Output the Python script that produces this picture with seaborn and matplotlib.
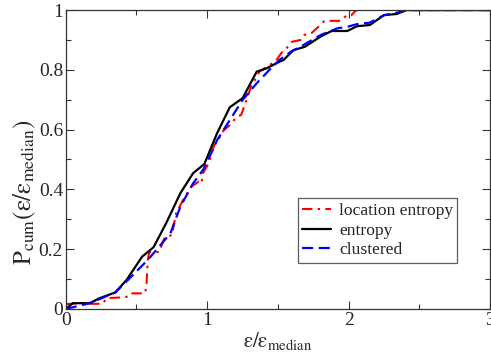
import matplotlib
matplotlib.use("Agg")
import matplotlib.pyplot as plt
import seaborn as sns
import pandas as pd
from matplotlib.ticker import MultipleLocator, FuncFormatter

# ---- data ----
entropy_x = [0.0, 0.05, 0.17, 0.24, 0.35, 0.43, 0.54, 0.62, 0.71, 0.81, 0.90, 0.98,
             1.07, 1.16, 1.25, 1.35, 1.42, 1.51, 1.54, 1.61, 1.69, 1.80, 1.88, 1.99,
             2.06, 2.15, 2.25, 2.34, 2.41, 3.0]
entropy_y = [0.0, 0.019, 0.019, 0.036, 0.055, 0.097, 0.175, 0.206, 0.287, 0.387, 0.454, 0.485,
             0.588, 0.675, 0.705, 0.794, 0.805, 0.827, 0.833, 0.866, 0.877, 0.911, 0.93, 0.93,
             0.946, 0.95, 0.983, 0.987, 1.0, 1.0]

clustered_x = [0.0, 0.17, 0.35, 0.44, 0.58, 0.64, 0.74, 0.81, 0.90, 0.97, 0.995, 1.07,
               1.16, 1.25, 1.35, 1.44, 1.51, 1.59, 1.68, 1.80, 1.92, 1.99, 2.06, 2.15,
               2.25, 2.34, 2.41, 3.0]
clustered_y = [0.0, 0.019, 0.055, 0.097, 0.164, 0.197, 0.253, 0.342, 0.42, 0.465, 0.487, 0.565,
               0.632, 0.699, 0.755, 0.80, 0.833, 0.86, 0.883, 0.916, 0.939, 0.944, 0.953, 0.958,
               0.983, 0.991, 1.0, 1.0]

location_x = [0.0, 0.10, 0.19, 0.26, 0.29, 0.38, 0.44, 0.46, 0.56, 0.57, 0.58, 0.59, 0.66,
              0.70, 0.75, 0.78, 0.83, 0.89, 0.94, 0.96, 0.97, 1.01, 1.03, 1.05, 1.08, 1.10,
              1.12, 1.16, 1.21, 1.24, 1.27, 1.31, 1.37, 1.42, 1.44, 1.49, 1.53, 1.55, 1.60,
              1.66, 1.68, 1.74, 1.80, 1.83, 1.94, 1.99, 2.02, 2.05, 2.07]
location_y = [0.016, 0.019, 0.017, 0.017, 0.036, 0.038, 0.041, 0.052, 0.052, 0.075, 0.164, 0.19, 0.19,
              0.24, 0.247, 0.32, 0.365, 0.41, 0.426, 0.42, 0.454, 0.487, 0.52, 0.548, 0.565, 0.588,
              0.599, 0.615, 0.643, 0.649, 0.688, 0.744, 0.794, 0.81, 0.815, 0.833, 0.86, 0.866, 0.894,
              0.90, 0.916, 0.924, 0.95, 0.964, 0.964, 0.983, 0.983, 0.998, 1.0]

x_ticks = [0, 1, 2, 3]
y_ticks = [0, 0.2, 0.4, 0.6, 0.8, 1.0]

sns.set_style("ticks")
plt.rcParams['font.family'] = ['Liberation Serif', 'DejaVu Serif']
plt.rcParams['mathtext.fontset'] = 'stix'

fig = plt.figure(figsize=(4.91, 3.6), dpi=100)
ax = fig.add_axes([0.134, 0.142, 0.864, 0.830])

df_loc = pd.DataFrame({"x": location_x, "y": location_y})
df_ent = pd.DataFrame({"x": entropy_x, "y": entropy_y})
df_clu = pd.DataFrame({"x": clustered_x, "y": clustered_y})

sns.lineplot(data=df_loc, x="x", y="y", ax=ax, sort=False, color="#ff0000", lw=1.5,
             label="location entropy", dashes=False)
sns.lineplot(data=df_ent, x="x", y="y", ax=ax, sort=False, color="black", lw=1.6,
             label="entropy", dashes=False)
sns.lineplot(data=df_clu, x="x", y="y", ax=ax, sort=False, color="#0000ff", lw=1.6,
             label="clustered", dashes=False)

lines = ax.get_lines()
lines[0].set_dashes([5, 2.5, 1.2, 2.5])
lines[2].set_dashes([5, 2.5])

ax.set_xlim(0, 3)
ax.set_ylim(0, 1)
ax.set_xticks(x_ticks)
ax.set_yticks(y_ticks)
ax.xaxis.set_minor_locator(MultipleLocator(0.5))
ax.yaxis.set_minor_locator(MultipleLocator(0.1))
fmt = FuncFormatter(lambda v, p: "%g" % v)
ax.xaxis.set_major_formatter(fmt)
ax.yaxis.set_major_formatter(fmt)
ax.tick_params(which="both", direction="in", top=True, right=True, labelsize=14,
               width=0.8, color="#333333", pad=2)
ax.tick_params(which="major", length=6)
ax.tick_params(which="minor", length=3.6)
for s in ax.spines.values():
    s.set_linewidth(0.9)
    s.set_color("#333333")
    s.set_visible(True)

ax.set_xlabel(r'$\mathrm{ε/ε_{median}}$', fontsize=15, labelpad=1)
ax.set_ylabel(r'$\mathrm{P_{cum}(ε/ε_{median})}$', fontsize=18)
ax.yaxis.set_label_coords(-0.065, 0.39)

leg = ax.legend(loc="lower left", bbox_to_anchor=(0.547, 0.154), fontsize=12.6,
                frameon=True, fancybox=False, edgecolor="#333333", handlelength=1.65,
                borderpad=0.25, labelspacing=0.2, handletextpad=0.45, borderaxespad=0)
leg.get_frame().set_linewidth(0.9)

fig.savefig("out.png", dpi=100)
